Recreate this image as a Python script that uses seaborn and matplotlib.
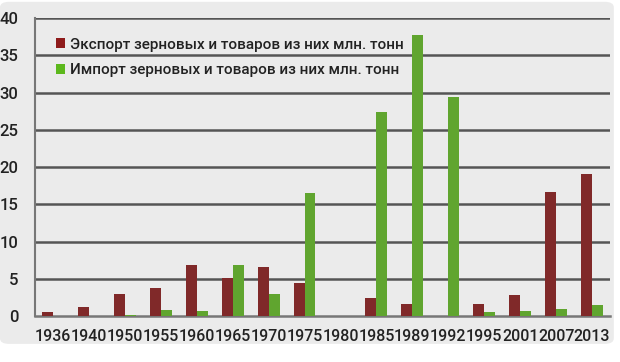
import matplotlib
matplotlib.use("Agg")
import matplotlib.pyplot as plt
import seaborn as sns
import pandas as pd
from matplotlib.patches import FancyBboxPatch, Patch

years = ["1936", "1940", "1950", "1955", "1960", "1965", "1970", "1975", "1980",
         "1985", "1989", "1992", "1995", "2001", "2007", "2013"]
export_vals = [0.5, 1.2, 3.0, 3.8, 6.8, 5.05, 6.6, 4.4, 0.0, 2.4, 1.55, 0.0, 1.65, 2.8, 16.7, 19.1]
import_vals = [0.0, 0.05, 0.1, 0.8, 0.7, 6.9, 2.9, 16.5, 0.0, 27.4, 37.7, 29.4, 0.6, 0.7, 1.0, 1.5]
series_names = ["Экспорт зерновых и товаров из них млн. тонн",
                "Импорт зерновых и товаров из них млн. тонн"]
yticks = [0, 5, 10, 15, 20, 25, 30, 35, 40]

df = pd.DataFrame({
    "year": years * 2,
    "value": export_vals + import_vals,
    "series": [series_names[0]] * len(years) + [series_names[1]] * len(years),
})

sns.set_theme(style="white")
plt.rcParams["font.family"] = ["Roboto", "DejaVu Sans"]

colors = ["#8E1B1B", "#5CB81C"]

fig = plt.figure(figsize=(6.2, 3.62), dpi=100, facecolor="white")
card = FancyBboxPatch((0.0, 0.05), 0.99, 0.945, boxstyle="round,pad=0,rounding_size=0.015",
                      transform=fig.transFigure, facecolor="#EBEBEB", edgecolor="none", zorder=-5)
fig.patches.append(card)

ax = fig.add_axes([35 / 620, 0.127, 575 / 620, 0.823])
ax.set_facecolor("none")
ax.set_zorder(2)

sns.barplot(data=df, x="year", y="value", hue="series", palette=colors, width=0.61,
            ax=ax, legend=False, zorder=3, linewidth=0)

ax.set_ylim(0, 40)
ax.set_yticks(yticks)
ax.set_yticklabels([str(t) for t in yticks], fontsize=12, color="#222222", fontweight="medium")
ax.set_xlim(-0.5, len(years) - 0.5)
ax.set_xticks(range(len(years)))
ax.set_xticklabels(years, fontsize=11.5, color="#222222", fontweight="medium")
ax.tick_params(axis="x", length=0, pad=9)
ax.tick_params(axis="y", length=0, pad=12)
ax.set_xticks([i - 0.5 for i in range(len(years) + 1)], minor=True)
ax.tick_params(axis="x", which="minor", length=4, width=1.5, color="#666666", direction="out")
ax.set_xlabel("")
ax.set_ylabel("")

for t in yticks[1:]:
    ax.axhline(t, color="#555555", linewidth=1.8, zorder=1)

for s in ["top", "right"]:
    ax.spines[s].set_visible(False)
ax.spines["bottom"].set_color("#777777")
ax.spines["bottom"].set_linewidth(1.8)
ax.spines["left"].set_color("#777777")
ax.spines["left"].set_linewidth(1.5)

handles = [Patch(facecolor=c, edgecolor="none") for c in colors]
leg = ax.legend(handles, series_names, loc="upper left", bbox_to_anchor=(0.026, 0.955),
                frameon=False, handlelength=0.6, handleheight=0.6,
                handletextpad=0.3, labelspacing=0.75, borderaxespad=0,
                prop={"family": ["Roboto", "DejaVu Sans"], "size": 11, "weight": "medium"})
for txt in leg.get_texts():
    txt.set_color("#222222")

fig.savefig("out.png", dpi=100, facecolor=fig.get_facecolor())
